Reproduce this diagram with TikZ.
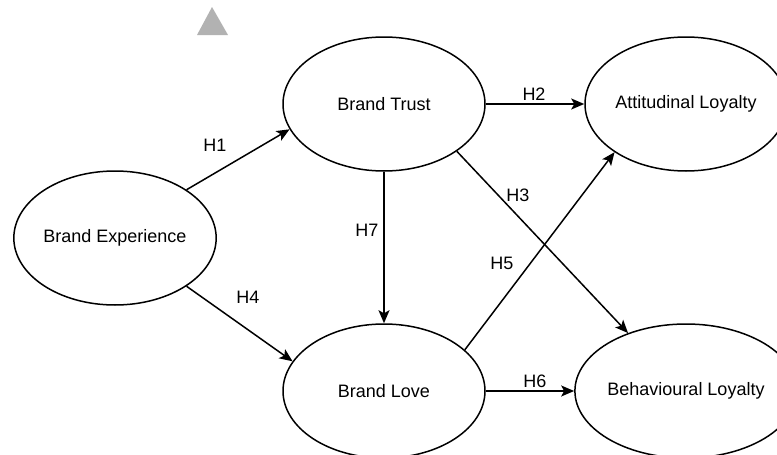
\documentclass[tikz,border=0pt]{standalone}
\usepackage{fontspec}
\setmainfont{Liberation Sans}
\usetikzlibrary{shapes.geometric,arrows.meta}
\definecolor{markgray}{RGB}{178,178,178}
\begin{document}
\begin{tikzpicture}[x=1pt,y=-1pt,
  construct/.style={ellipse,draw,line width=1.5pt,minimum width=202pt,
    minimum height=134pt,inner sep=0pt,font=\fontsize{18}{20}\selectfont},
  link/.style={draw,line width=1.5pt,
    -{Stealth[length=13pt,width=11pt,inset=3pt]}},
  hyp/.style={font=\fontsize{18}{20}\selectfont,inner sep=1pt}]
\useasboundingbox (0,0) rectangle (777,455);
\clip (0,0) rectangle (777,455);

% small grey marker at the top
\fill[markgray] (212,7) -- (228,35) -- (197,35) -- cycle;

% constructs
\node[construct] (exp)   at (115,238) {Brand Experience};
\node[construct] (trust) at (384,104) {Brand Trust};
\node[construct] (att)   at (686,104) {Attitudinal Loyalty};
\node[construct] (love)  at (384,391) {Brand Love};
\node[construct] (beh)   at (686,391) {Behavioural Loyalty};

% hypothesised paths
\draw[link] (exp.34)    -- (trust.195);
\draw[link] (exp.-34)   -- (love.162);
\draw[link] (trust.0)   -- (att.180);
\draw[link] (trust.-90) -- (love.90);
\draw[link] (trust.-33) -- (beh.135);
\draw[link] (love.27)   -- (att.214);
\draw[link] (love.0)    -- (beh.180);

% path labels
\node[hyp] (h1) at (215,145) {H1};
\node[hyp] (h2) at (534,94)  {H2};
\node[hyp] (h3) at (518,195) {H3};
\node[hyp] (h4) at (248,297) {H4};
\node[hyp] (h5) at (502,263) {H5};
\node[hyp] (h6) at (535,381) {H6};
\node[hyp] (h7) at (367,230) {H7};
\end{tikzpicture}
\end{document}
